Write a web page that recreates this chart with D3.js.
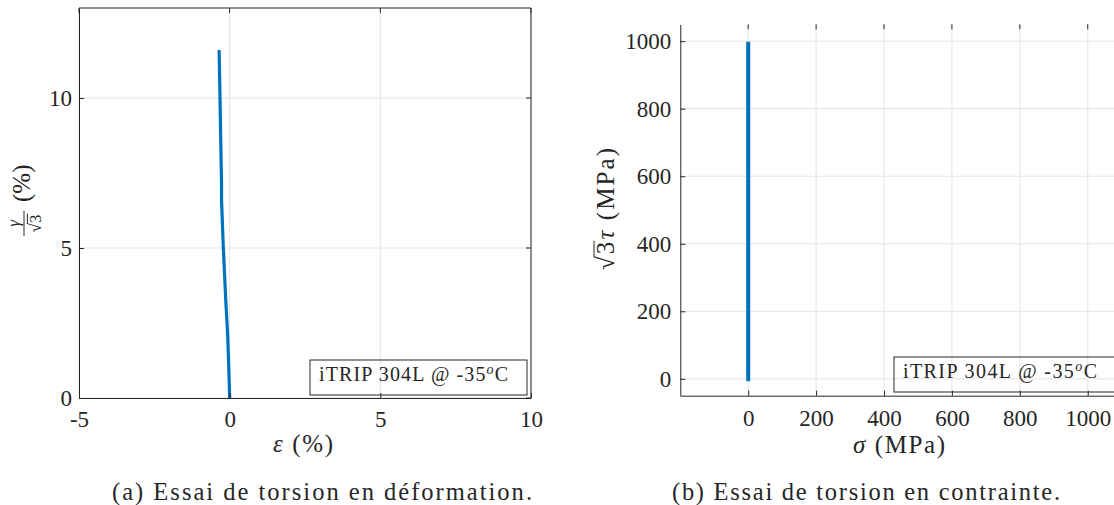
<!DOCTYPE html>
<html>
<head>
<meta charset="utf-8">
<script src="https://cdn.jsdelivr.net/npm/d3@7"></script>
<style>
  body { margin: 0; background: #fff; }
  svg text { font-family: "Liberation Serif", "Times New Roman", Tinos, "DejaVu Serif", serif; fill: #262626; }
</style>
</head>
<body>
<svg id="fig" width="1114" height="505"></svg>
<script>
// ---- data ----
// (a) strain test: epsilon (%) vs gamma/sqrt(3) (%)
const epsStrain   = [0, -0.03, -0.07, -0.13, -0.21, -0.27, -0.27, -0.30, -0.32, -0.35];
const gammaStrain = [0, 1.04, 2.17, 3.27, 5.0, 6.6, 7.15, 8.81, 10.0, 11.6];
// (b) stress test: sigma (MPa) vs sqrt(3) tau (MPa)
const sigmaStress = [0, 0];
const tauStress   = [-7, 998];

const xTicksA = [-5, 0, 5, 10];
const yTicksA = [0, 5, 10];
const xTicksB = [0, 200, 400, 600, 800, 1000];
const yTicksB = [0, 200, 400, 600, 800, 1000];

const legendLabel = 'iTRIP 304L @ -35';
const captionA = '(a) Essai de torsion en déformation.';
const captionB = '(b) Essai de torsion en contrainte.';

const blue = '#0072bd', axisCol = '#262626', gridCol = '#e4e4e4';
const serif = '"Liberation Serif", "Times New Roman", Tinos, "DejaVu Serif", serif';
const svg = d3.select('#fig');

function drawPanel(cfg) {
    const x = d3.scaleLinear().domain(cfg.xDomain).range(cfg.xRange);
    const y = d3.scaleLinear().domain(cfg.yDomain).range(cfg.yRange);
    const [x0, x1] = cfg.xRange, [y0, y1] = cfg.yRange;
    const g = svg.append('g');

    // grid
    g.selectAll('.vgrid').data(cfg.xTicks).enter().append('line')
        .attr('x1', d => x(d)).attr('x2', d => x(d))
        .attr('y1', y0).attr('y2', y1)
        .attr('stroke', gridCol).attr('stroke-width', 1);
    g.selectAll('.hgrid').data(cfg.yTicks).enter().append('line')
        .attr('x1', x0).attr('x2', x1)
        .attr('y1', d => y(d)).attr('y2', d => y(d))
        .attr('stroke', gridCol).attr('stroke-width', 1);

    // data
    const pts = cfg.xs.map((v, i) => [v, cfg.ys[i]]);
    g.append('path')
        .datum(pts)
        .attr('d', d3.line().x(d => x(d[0])).y(d => y(d[1])))
        .attr('fill', 'none')
        .attr('stroke', blue)
        .attr('stroke-width', cfg.lineWidth)
        .attr('stroke-linejoin', 'round');

    // axes, ticks inward like matlab
    const fmt = d => String(d);
    const xAxis = g.append('g').attr('transform', `translate(0,${y0})`)
        .call(d3.axisBottom(x).tickValues(cfg.xTicks).tickFormat(fmt)
            .tickSizeInner(-5).tickSizeOuter(0).tickPadding(cfg.xPad));
    const yAxis = g.append('g').attr('transform', `translate(${x0},0)`)
        .call(d3.axisLeft(y).tickValues(cfg.yTicks).tickFormat(fmt)
            .tickSizeInner(-5).tickSizeOuter(0).tickPadding(cfg.yPad));
    [xAxis, yAxis].forEach(a => {
        a.attr('font-family', null);
        a.select('.domain').attr('stroke', axisCol);
        a.selectAll('.tick line').attr('stroke', axisCol);
        a.selectAll('.tick text').attr('fill', axisCol)
            .style('font-size', '23px')
            .style('font-family', serif);
    });

    // top ticks (and top/right box lines for panel a)
    g.selectAll('.ttick').data(cfg.xTicks).enter().append('line')
        .attr('x1', d => x(d)).attr('x2', d => x(d))
        .attr('y1', y1).attr('y2', y1 + 5)
        .attr('stroke', axisCol);
    if (cfg.box) {
        g.append('line').attr('x1', x0).attr('x2', x1).attr('y1', y1).attr('y2', y1).attr('stroke', axisCol);
        g.append('line').attr('x1', x1).attr('x2', x1).attr('y1', y0).attr('y2', y1).attr('stroke', axisCol);
        g.selectAll('.rtick').data(cfg.yTicks).enter().append('line')
            .attr('x1', x1).attr('x2', x1 - 5)
            .attr('y1', d => y(d)).attr('y2', d => y(d))
            .attr('stroke', axisCol);
    }

    // legend box
    const lb = cfg.legend;
    g.append('rect')
        .attr('x', lb.x).attr('y', lb.y).attr('width', lb.w).attr('height', lb.h)
        .attr('fill', 'none').attr('stroke', axisCol).attr('stroke-width', 1);
    const lt = g.append('text')
        .attr('x', lb.x + 9).attr('y', lb.y + 21)
        .style('font-size', '20px')
        .attr('textLength', lb.textW).attr('lengthAdjust', 'spacing');
    lt.append('tspan').text(legendLabel);
    lt.append('tspan').text('o').style('font-size', '14px').style('font-style', 'italic')
        .attr('dy', -7);
    lt.append('tspan').text('C').attr('dy', 7);

    // caption
    svg.append('text')
        .attr('x', cfg.caption.x).attr('y', 500)
        .style('font-size', '24.5px')
        .attr('textLength', cfg.caption.w).attr('lengthAdjust', 'spacing')
        .text(cfg.caption.text);

    return { x, y, g };
}

// panel (a)
const pa = drawPanel({
    xDomain: [-5, 10], xRange: [79, 531],
    yDomain: [0, 13], yRange: [398, 8],
    xTicks: xTicksA, yTicks: yTicksA,
    xs: epsStrain, ys: gammaStrain, lineWidth: 3.2,
    xPad: 12.5, yPad: 7, box: true,
    legend: { x: 310, y: 360, w: 217, h: 35, textW: 189 },
    caption: { x: 112, w: 420, text: captionA }
});

// panel (b)
const pb = drawPanel({
    xDomain: [-200, 1100], xRange: [680.3, 1121.7],
    yDomain: [-50, 1050], yRange: [395.7, 24.3],
    xTicks: xTicksB, yTicks: yTicksB,
    xs: sigmaStress, ys: tauStress, lineWidth: 4,
    xPad: 13.5, yPad: 9, box: false,
    legend: { x: 894, y: 357, w: 222, h: 35, textW: 194 },
    caption: { x: 672, w: 388, text: captionB }
});

// x labels
const xa = svg.append('text').attr('x', 273).attr('y', 452)
    .style('font-size', '25px')
    .attr('textLength', 60).attr('lengthAdjust', 'spacing');
xa.append('tspan').text('ε').style('font-style', 'italic');
xa.append('tspan').text(' (%)');

const xb = svg.append('text').attr('x', 853).attr('y', 453)
    .style('font-size', '25px')
    .attr('textLength', 92).attr('lengthAdjust', 'spacing');
xb.append('tspan').text('σ').style('font-style', 'italic');
xb.append('tspan').text(' (MPa)');

// sqrt helper: draws the vinculum over the char after the radical
function vinculum(parent, textSel, rIdx, endIdx, baseY, fs) {
    const node = textSel.node();
    const r = node.getExtentOfChar(rIdx);
    const e = node.getExtentOfChar(endIdx);
    parent.append('line')
        .attr('x1', r.x + r.width - 1).attr('x2', e.x + e.width + 1)
        .attr('y1', baseY - fs * 0.8).attr('y2', baseY - fs * 0.8)
        .attr('stroke', axisCol).attr('stroke-width', 1);
}

// y label (a): gamma / sqrt3 (%)
const ya = svg.append('g').attr('transform', 'translate(30,203) rotate(-90)');
ya.append('text').attr('x', 1).attr('y', 0).style('font-size', '25px').text('(%)');
ya.append('line').attr('x1', -33).attr('x2', -8).attr('y1', -6).attr('y2', -6)
    .attr('stroke', axisCol).attr('stroke-width', 1);
ya.append('text').attr('x', -20.5).attr('y', -11).attr('text-anchor', 'middle')
    .style('font-size', '17px').style('font-style', 'italic').text('γ');
const den = ya.append('text').attr('x', -20.5).attr('y', 11).attr('text-anchor', 'middle')
    .style('font-size', '17px').text('√3');
vinculum(ya, den, 0, 1, 11, 17);

// y label (b): sqrt3 tau (MPa)
const yb = svg.append('g').attr('transform', 'translate(614,148) rotate(-90)');
const ybt = yb.append('text').attr('x', -122).attr('y', 0)
    .style('font-size', '25px')
    .attr('textLength', 122).attr('lengthAdjust', 'spacing');
ybt.append('tspan').text('√3');
ybt.append('tspan').text('τ').style('font-style', 'italic');
ybt.append('tspan').text(' (MPa)');
vinculum(yb, ybt, 0, 1, 0, 25);
</script>
</body>
</html>
